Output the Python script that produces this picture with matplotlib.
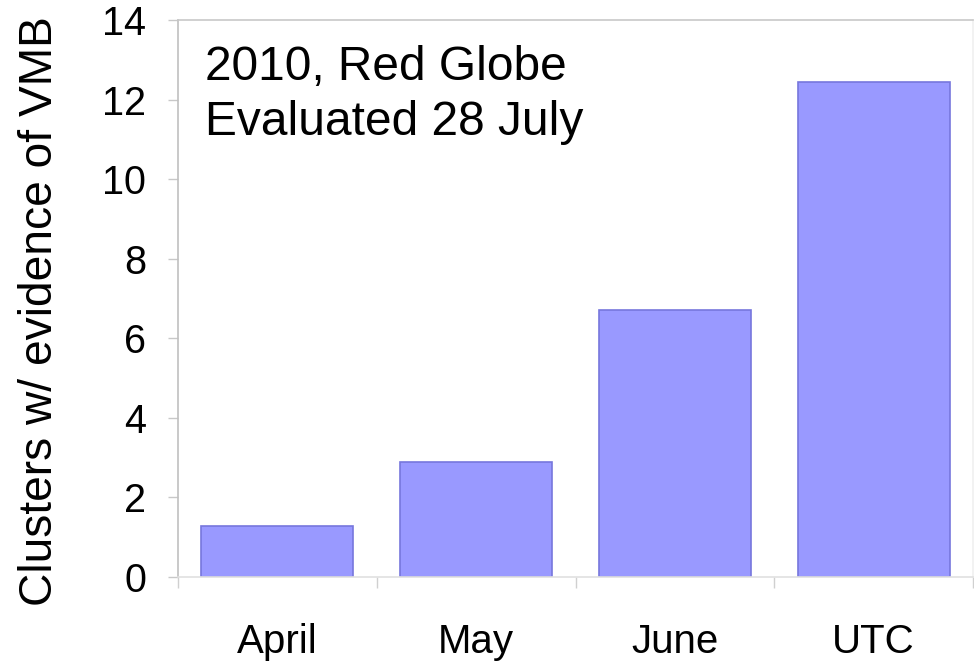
import matplotlib.pyplot as plt
import numpy as np

plt.rcParams['font.family'] = ['Liberation Sans', 'DejaVu Sans']

categories = ['April', 'May', 'June', 'UTC']
clusters = [1.27, 2.9, 6.7, 12.45]
y_ticks = [0, 2, 4, 6, 8, 10, 12, 14]

fig = plt.figure(figsize=(9.74, 6.63), dpi=100)
ax = fig.add_axes([178 / 974, 1 - 577 / 663, 795 / 974, 557 / 663])

x = np.arange(len(categories))
ax.bar(x, clusters, width=0.765, color='#9999ff', edgecolor='#7777dd', linewidth=1.2, zorder=2)

ax.set_xlim(-0.5, len(categories) - 0.5)
ax.set_ylim(0, 14)
ax.set_yticks(y_ticks)
ax.set_yticklabels([str(t) for t in y_ticks], fontsize=28.5)
ax.set_xticks(x)
ax.set_xticklabels(categories, fontsize=29)
ax.set_xticks(np.arange(len(categories) + 1) - 0.5, minor=True)

ax.tick_params(axis='y', length=7, width=1, color='#c8c8c8', pad=16)
ax.tick_params(axis='x', which='major', length=0, pad=33)
ax.tick_params(axis='x', which='minor', length=8, width=1, color='#d0d0d0')

ax.spines['left'].set_color('#c0c0c0')
ax.spines['bottom'].set_color('#e0e0e0')
ax.spines['top'].set_color('#c8c8c8')
ax.spines['right'].set_color('#f0f0f0')
for s in ax.spines.values():
    s.set_linewidth(1.2)

ax.set_ylabel('Clusters w/ evidence of VMB', fontsize=33.2)
ax.yaxis.set_label_coords(-0.146, 0.477)

ax.text(0.034, 0.955, '2010, Red Globe\nEvaluated 28 July', transform=ax.transAxes,
        fontsize=34.5, va='top', ha='left', linespacing=1.27)

fig.savefig('out.png', dpi=100)
